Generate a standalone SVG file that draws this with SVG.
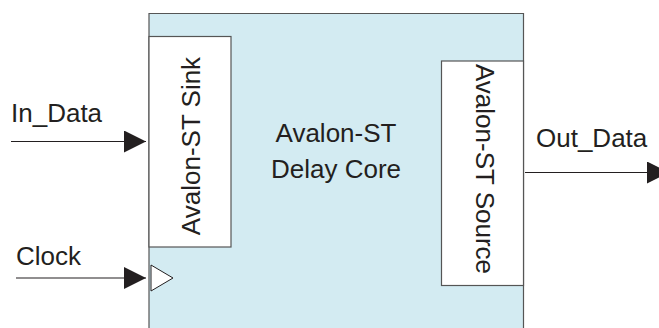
<svg xmlns="http://www.w3.org/2000/svg" width="659" height="328" viewBox="0 0 659 328">
<style>
text{font-family:"Liberation Sans",Arial,sans-serif;font-size:26px;fill:#231f20}
.box{stroke:#555;stroke-width:1.2}
.wire{stroke:#231f20;stroke-width:1.2;fill:none}
</style>
<defs>
<marker id="ah" markerUnits="userSpaceOnUse" markerWidth="24" markerHeight="22" refX="22" refY="11" orient="auto">
<path d="M0,0 L22,11 L0,22 Z" fill="#231f20"/>
</marker>
</defs>
<g id="core">
<path class="box" d="M149,330 L149,13.5 L523.5,13.5 L523.5,330" fill="#d3ebf2"/>
<text x="336" y="142" text-anchor="middle">Avalon-ST</text>
<text x="336" y="178" text-anchor="middle">Delay Core</text>
</g>
<g id="sink">
<rect class="box" x="149" y="36.5" width="82" height="210.5" fill="#fff"/>
<text transform="translate(199.5,146) rotate(-90)" text-anchor="middle">Avalon-ST Sink</text>
</g>
<g id="source">
<rect class="box" x="441.5" y="61" width="82" height="224.5" fill="#fff"/>
<text transform="translate(475.5,169) rotate(90)" text-anchor="middle">Avalon-ST Source</text>
</g>
<g id="clock-port">
<path d="M151,265 L173,278 L151,291 Z" fill="#fff" stroke="#231f20" stroke-width="1"/>
</g>
<g id="connectors">
<line class="wire" x1="11" y1="141.5" x2="146" y2="141.5" marker-end="url(#ah)"/>
<line class="wire" x1="16" y1="278" x2="146" y2="278" marker-end="url(#ah)"/>
<line class="wire" x1="525" y1="172.5" x2="669" y2="172.5" marker-end="url(#ah)"/>
</g>
<g id="labels">
<text x="11" y="121.5">In_Data</text>
<text x="16" y="265">Clock</text>
<text x="536" y="147">Out_Data</text>
</g>
</svg>
